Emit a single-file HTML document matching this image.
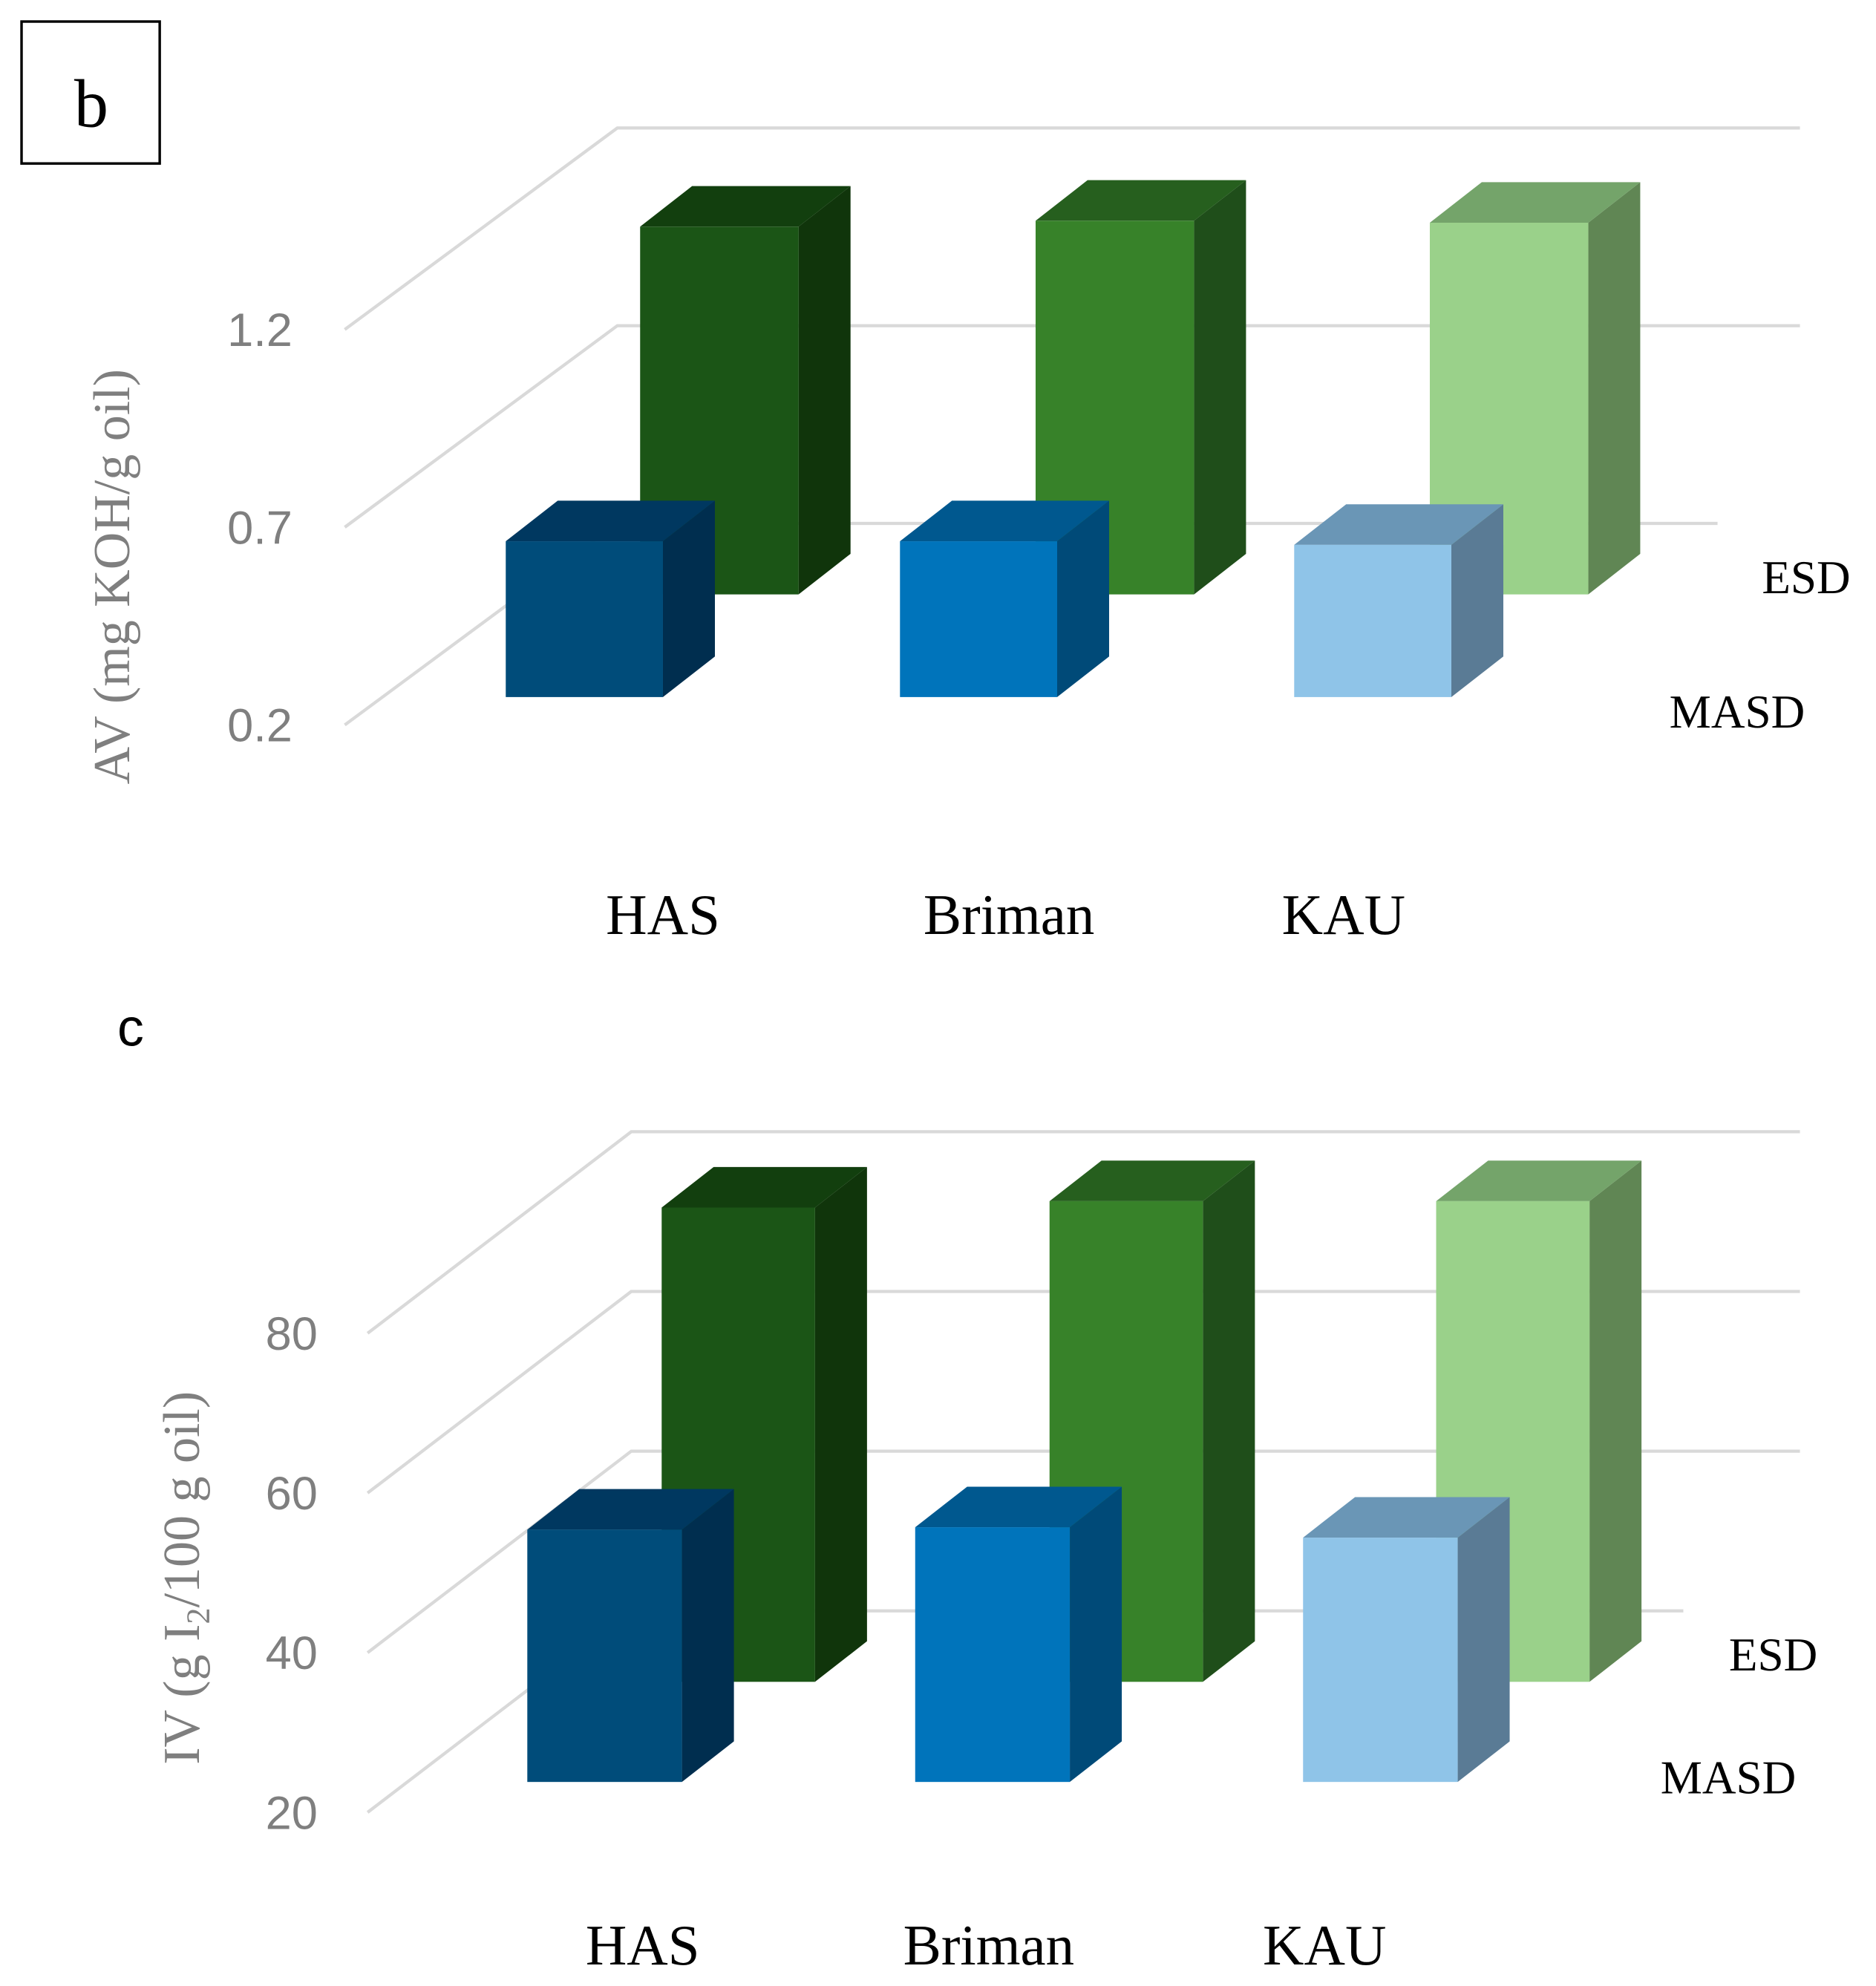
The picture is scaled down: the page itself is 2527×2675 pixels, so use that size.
<!DOCTYPE html>
<html><head><meta charset="utf-8"><style>
html,body{margin:0;padding:0;background:#fff;}
svg{display:block;}
</style></head><body>
<svg id="fig" width="2527" height="2675" viewBox="0 0 1480 1567" preserveAspectRatio="none">
<g id="chartB"></g>
<g id="chartC"></g>
</svg>
<script>
const categories = ["HAS","Briman","KAU"];
const seriesNames = ["ESD","MASD"];
const avESD = [1.13, 1.145, 1.14];
const avMASD = [0.594, 0.594, 0.585];
const avTicks = ["0.2","0.7","1.2"];
const avTickValues = [0.2, 0.7, 1.2];
const ivESD = [79.4, 80.2, 80.2];
const ivMASD = [51.6, 51.9, 50.6];
const ivTicks = ["20","40","60","80"];
const ivTickValues = [20, 40, 60, 80];

const NS = "http://www.w3.org/2000/svg";
function mk(parent, tag, attrs, text){
  const e = document.createElementNS(NS, tag);
  for (const k in attrs) e.setAttribute(k, attrs[k]);
  if (text !== undefined) e.textContent = text;
  parent.appendChild(e);
  return e;
}
const escCols = [["#1b5516","#10350b","#123f0e"],["#378229","#1f4e1a","#265f1e"],["#9ad18a","#608654","#74a46a"]];
const masdCols = [["#004c7a","#002e4f","#003860"],["#0074bb","#004a78","#00588f"],["#8fc4e8","#5a7b95","#6a96b6"]];

function bar(g, x, w, base, top, cols, name){
  const dx = 41, dy = -32;
  const grp = mk(g, "g", {});
  
  
  mk(grp, "polygon", {points:`${x+w},${base} ${x+w+dx},${base+dy} ${x+w+dx},${top+dy} ${x+w},${top}`, fill:cols[1]});
  mk(grp, "polygon", {points:`${x},${top} ${x+dx},${top+dy} ${x+w+dx},${top+dy} ${x+w},${top}`, fill:cols[2]});
  mk(grp, "rect", {x:x, y:top, width:w, height:base-top, fill:cols[0]});
}

function chart(g, cfg){
  const yFront = v => cfg.front0 - (v - cfg.vmin) * cfg.pxPer;
  cfg.tickValues.forEach((tv, i) => {
    const yf = yFront(tv);
    const yb = yf - cfg.depthY;
    const gl = mk(g, "polyline", {points:`${cfg.frontX},${yf} ${cfg.backX},${yb} ${i===0?cfg.shortEnd:1420},${yb}`, fill:"none", stroke:"#d9d9d9", "stroke-width":2.5});
    
    
    const t = mk(g, "text", {x:cfg.tickX, y:yf+13, "text-anchor":"middle", "font-family":"Liberation Sans, sans-serif", "font-size":37, fill:"#7f7f7f"}, cfg.ticks[i]);
    
    
  });
  const hE = v => (v - cfg.vmin) * cfg.pxPer;
  categories.forEach((c, i) => {
    bar(g, cfg.esdX[i], cfg.esdW, cfg.esdBase, cfg.esdBase - hE(cfg.esd[i]), escCols[i], 'bar-esd-' + c.toLowerCase());
  });
  categories.forEach((c, i) => {
    bar(g, cfg.masdX[i], cfg.masdW, cfg.masdBase, cfg.masdBase - hE(cfg.masd[i]), masdCols[i], 'bar-masd-' + c.toLowerCase());
  });
  const l1 = mk(g, "text", {x:cfg.esdLab[0], y:cfg.esdLab[1], "font-family":"Liberation Serif, serif", "font-size":37, fill:"#000"}, seriesNames[0]);
  
  
  const l2 = mk(g, "text", {x:cfg.masdLab[0], y:cfg.masdLab[1], "font-family":"Liberation Serif, serif", "font-size":37, fill:"#000"}, seriesNames[1]);
  
  
  categories.forEach((c, i) => {
    const t = mk(g, "text", {x:cfg.catX[i], y:cfg.catY, "text-anchor":"middle", "font-family":"Liberation Serif, serif", "font-size":45, fill:"#000"}, c);
    
    
  });
  const yt = mk(g, "text", {x:0, y:0, transform:`translate(${cfg.titleX},${cfg.titleY}) rotate(-90)`, "text-anchor":"middle", "font-family":"Liberation Serif, serif", "font-size":41, fill:"#7f7f7f"});
  
  
  cfg.title(yt);
}

const gb = document.getElementById("chartB");
const box = mk(gb, "rect", {x:17, y:17, width:109, height:112, fill:"none", stroke:"#000", "stroke-width":2});


const lb = mk(gb, "text", {x:72, y:100, "text-anchor":"middle", "font-family":"Liberation Serif, serif", "font-size":54}, "b");


chart(gb, {
  vmin:0.2, pxPer:312, front0:572, depthY:159, frontX:272, backX:487, shortEnd:1355, tickX:205,
  tickValues:avTickValues, ticks:avTicks, esd:avESD, masd:avMASD,
  esdX:[505,817,1128], esdW:125, esdBase:469, masdX:[399,710,1021], masdW:124, masdBase:550,
  esdLab:[1390,468], masdLab:[1317,574], catX:[523,796,1060], catY:737, titleX:102, titleY:455,
  title: t => { t.textContent = "AV (mg KOH/g oil)"; }
});

const gc = document.getElementById("chartC");
const lc = mk(gc, "text", {x:103, y:825, "text-anchor":"middle", "font-family":"Liberation Sans, sans-serif", "font-size":42}, "c");


chart(gc, {
  vmin:20, pxPer:6.3, front0:1430, depthY:159, frontX:290, backX:498, shortEnd:1328, tickX:230,
  tickValues:ivTickValues, ticks:ivTicks, esd:ivESD, masd:ivMASD,
  esdX:[522,828,1133], esdW:121, esdBase:1327, masdX:[416,722,1028], masdW:122, masdBase:1406,
  esdLab:[1364,1318], masdLab:[1310,1415], catX:[507,780,1045], catY:1550, titleX:157, titleY:1245,
  title: t => {
    t.appendChild(document.createTextNode("IV (g I"));
    const s = document.createElementNS(NS, "tspan");
    s.setAttribute("font-size", "26"); s.setAttribute("dy", "8");
    s.textContent = "2";
    t.appendChild(s);
    const r = document.createElementNS(NS, "tspan");
    r.setAttribute("dy", "-8");
    r.textContent = "/100 g oil)";
    t.appendChild(r);
  }
});
</script>
</body></html>
